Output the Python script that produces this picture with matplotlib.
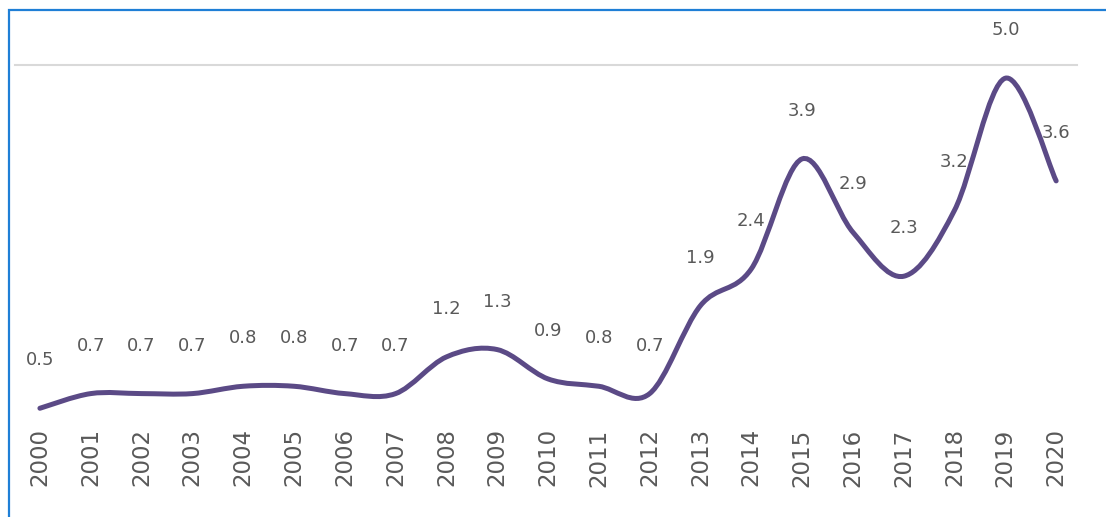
import matplotlib
matplotlib.use("Agg")
import matplotlib.pyplot as plt
from matplotlib.path import Path
from matplotlib.patches import PathPatch, Rectangle

years = [str(y) for y in range(2000, 2021)]
values = [0.5, 0.7, 0.7, 0.7, 0.8, 0.8, 0.7, 0.7, 1.2, 1.3,
          0.9, 0.8, 0.7, 1.9, 2.4, 3.9, 2.9, 2.3, 3.2, 5.0, 3.6]

line_color = '#5b4a86'
text_color = '#595959'


def smooth_path(xs, ys):
    # excel-like smoothed line: cubic bezier through every point
    n = len(xs)
    verts = [(xs[0], ys[0])]
    codes = [Path.MOVETO]
    for i in range(n - 1):
        i0 = max(i - 1, 0)
        i3 = min(i + 2, n - 1)
        c1 = (xs[i] + (xs[i + 1] - xs[i0]) / 6, ys[i] + (ys[i + 1] - ys[i0]) / 6)
        c2 = (xs[i + 1] - (xs[i3] - xs[i]) / 6, ys[i + 1] - (ys[i3] - ys[i]) / 6)
        verts += [c1, c2, (xs[i + 1], ys[i + 1])]
        codes += [Path.CURVE4] * 3
    return Path(verts, codes)


fig = plt.figure(figsize=(11.06, 5.17), dpi=100)
ax = fig.add_axes([15 / 1106, 97 / 517, 1062 / 1106, 355 / 517])

x = list(range(len(values)))
ax.add_patch(PathPatch(smooth_path(x, values), facecolor='none',
                       edgecolor=line_color, lw=3.6, capstyle='round'))

for i, v in enumerate(values):
    ax.annotate(f'{v:.1f}', (i, v), xytext=(0, 34.5), textcoords='offset points',
                ha='center', va='center', fontsize=13, color=text_color,
                annotation_clip=False)

ax.set_xlim(-0.49, 20.41)
ax.set_ylim(0.34, 5.18)
ax.set_xticks(x)
ax.set_xticklabels(years, rotation=90, fontsize=16.5, color=text_color)
ax.tick_params(axis='x', length=0, pad=6)
ax.set_yticks([])
for s in ax.spines.values():
    s.set_visible(False)
ax.axhline(5.18, color='#d9d9d9', lw=1.5, clip_on=False)

# blue frame around the chart
fig.patches.append(Rectangle((9 / 1106, -0.1), 1.2, (517 - 10) / 517 + 0.1,
                             transform=fig.transFigure, fill=False,
                             edgecolor='#1f7fd6', lw=1.6))

fig.savefig('out.png', dpi=100)
